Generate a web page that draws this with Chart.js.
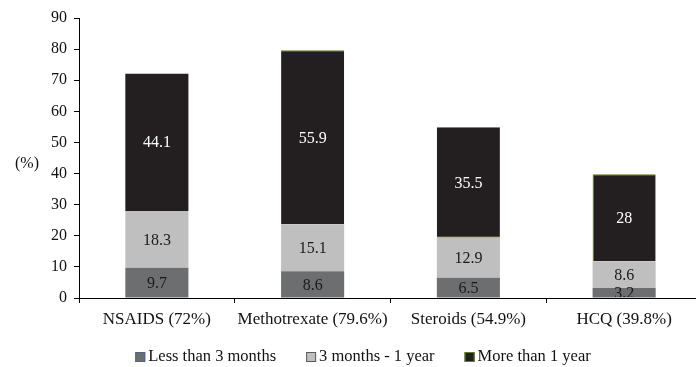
<!DOCTYPE html>
<html>
<head>
<meta charset="utf-8">
<script src="https://cdn.jsdelivr.net/npm/chart.js@4/dist/chart.umd.min.js"></script>
<style>
  html, body { margin: 0; padding: 0; overflow: hidden; background: #fff; width: 696px; height: 367px; }
  #wrap { position: relative; width: 704px; height: 367px; }
</style>
</head>
<body>
<div id="wrap"><canvas id="c" width="704" height="367"></canvas></div>
<script>
// Drug categories and duration-of-use shares (%)
const categories = ['NSAIDS (72%)', 'Methotrexate (79.6%)', 'Steroids (54.9%)', 'HCQ (39.8%)'];
const lessThan3Months = [9.7, 8.6, 6.5, 3.2];
const threeMonthsTo1Year = [18.3, 15.1, 12.9, 8.6];
const moreThan1Year = [44.1, 55.9, 35.5, 28];
const seriesNames = ['Less than 3 months', '3 months - 1 year', 'More than 1 year'];
const yMin = 0, yMax = 90, yStep = 10;
const yTitle = '(%)';

const SERIF = '"Liberation Serif", "Times New Roman", serif';
const fills = ['#6d6e70', '#bfbfbf', '#231f20'];
const legendStrokes = ['#4f6584', '#5a5a5a', '#5d7f22'];

// Value written in the middle of each stacked segment (kept inside the plot area)
const segmentLabels = {
  id: 'segmentLabels',
  afterDatasetsDraw(chart) {
    const ctx = chart.ctx;
    const a = chart.chartArea;
    ctx.save();
    ctx.beginPath();
    ctx.rect(a.left, a.top, a.right - a.left, a.bottom - a.top - 1);
    ctx.clip();
    ctx.font = '16px ' + SERIF;
    ctx.textAlign = 'center';
    ctx.textBaseline = 'middle';
    chart.data.datasets.forEach((ds, i) => {
      chart.getDatasetMeta(i).data.forEach((bar, j) => {
        ctx.fillStyle = i === 2 ? '#ffffff' : '#1a1a1a';
        ctx.fillText(String(ds.data[j]), bar.x, (bar.y + bar.base) / 2 + 1);
      });
    });
    ctx.restore();
  }
};

// Horizontal y-axis title and the bottom legend
const decorations = {
  id: 'decorations',
  afterDraw(chart) {
    const ctx = chart.ctx;
    ctx.save();
    ctx.fillStyle = '#111';
    ctx.font = '16px ' + SERIF;
    ctx.textAlign = 'center';
    ctx.textBaseline = 'middle';
    ctx.fillText(yTitle, 27, 164);

    ctx.font = '16.5px ' + SERIF;
    ctx.textAlign = 'left';
    const box = 10, gap = 3, itemGap = 30;
    const widths = seriesNames.map(n => ctx.measureText(n).width);
    const total = widths.reduce((a, w) => a + box + gap + w, 0) + itemGap * (seriesNames.length - 1);
    let x = 363 - total / 2;
    const yc = 357;
    seriesNames.forEach((name, i) => {
      ctx.fillStyle = fills[i];
      ctx.fillRect(x, yc - box / 2, box, box);
      ctx.strokeStyle = legendStrokes[i];
      ctx.lineWidth = 1;
      ctx.strokeRect(x + 0.5, yc - box / 2 + 0.5, box - 1, box - 1);
      ctx.fillStyle = '#111';
      ctx.fillText(name, x + box + gap, yc);
      x += box + gap + widths[i] + itemGap;
    });
    ctx.restore();
  }
};

const topEdge = '#5d7f22';
new Chart(document.getElementById('c'), {
  type: 'bar',
  data: {
    labels: categories,
    datasets: [
      { label: seriesNames[0], data: lessThan3Months, backgroundColor: fills[0], borderWidth: 0 },
      { label: seriesNames[1], data: threeMonthsTo1Year, backgroundColor: fills[1], borderWidth: 0 },
      {
        label: seriesNames[2], data: moreThan1Year, backgroundColor: fills[2],
        borderColor: topEdge,
        borderSkipped: false,
        borderWidth: [
          { top: 0, left: 0, right: 0, bottom: 0 },
          { top: 1, left: 0, right: 0, bottom: 0 },
          { top: 0, left: 0, right: 0, bottom: 1 },
          { top: 1, left: 1, right: 0, bottom: 0 }
        ]
      }
    ]
  },
  options: {
    responsive: false,
    animation: false,
    events: [],
    layout: { padding: { top: 18, right: 2, left: 0, bottom: 0 } },
    datasets: { bar: { categoryPercentage: 1, barPercentage: 0.405 } },
    plugins: { legend: { display: false }, tooltip: { enabled: false } },
    scales: {
      x: {
        stacked: true,
        afterFit(s) { s.height = 69; },
        grid: { display: true, drawOnChartArea: false, tickLength: 5, color: '#000', offset: true },
        border: { display: true, color: '#000', width: 1 },
        ticks: { color: '#111', font: { family: SERIF, size: 17 }, padding: 6, maxRotation: 0, autoSkip: false }
      },
      y: {
        stacked: true,
        min: yMin, max: yMax,
        afterFit(s) { s.width = 79; },
        grid: { display: true, drawOnChartArea: false, tickLength: 5, color: '#000' },
        border: { display: true, color: '#000', width: 1 },
        ticks: { stepSize: yStep, color: '#111', font: { family: SERIF, size: 16 }, padding: 7 }
      }
    }
  },
  plugins: [segmentLabels, decorations]
});
</script>
</body>
</html>
